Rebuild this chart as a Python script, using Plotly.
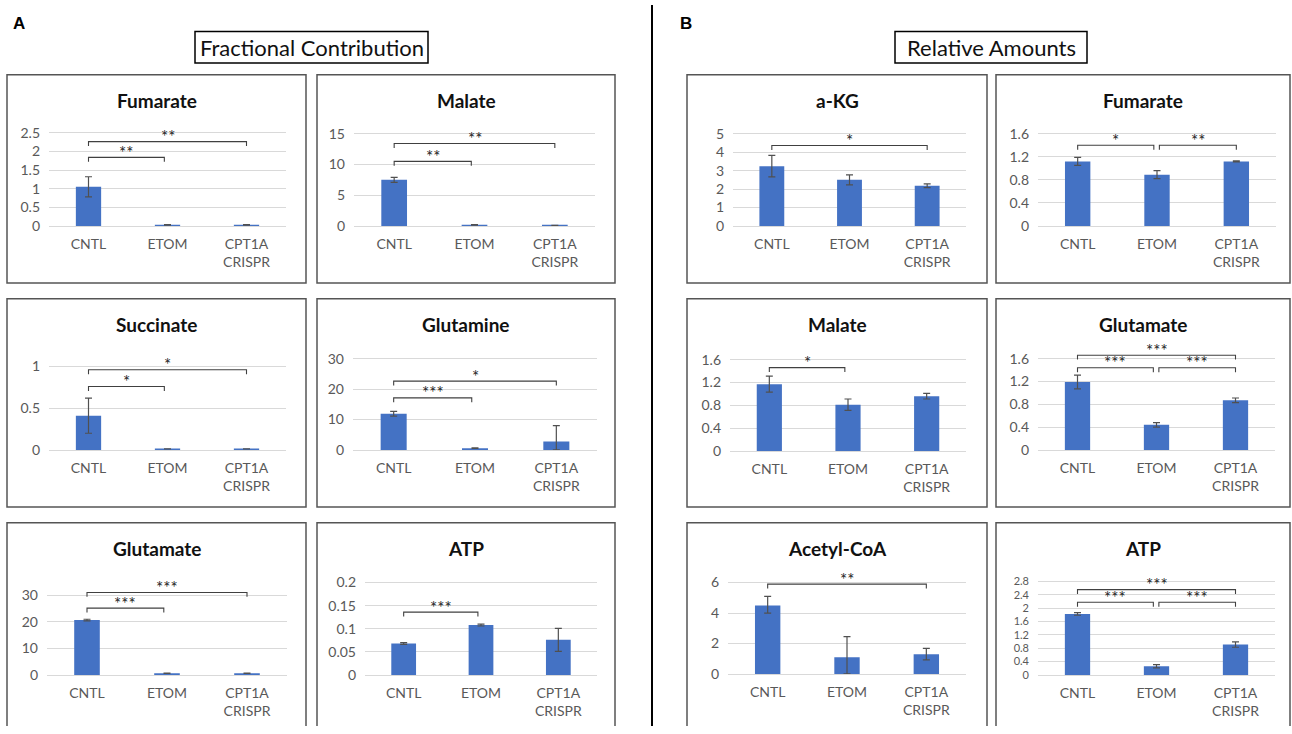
import plotly.graph_objects as go

W, H = 1292, 734

categories = ["CNTL", "ETOM", "CPT1A<br>CRISPR"]

# ---------------- A: Fractional Contribution ----------------
fc_fumarate = [1.05, 0.03, 0.03]
fc_fumarate_err = [0.27, 0.01, 0.01]
fc_fumarate_ticks = [0, 0.5, 1, 1.5, 2, 2.5]

fc_malate = [7.5, 0.2, 0.1]
fc_malate_err = [0.4, 0.05, 0.02]
fc_malate_ticks = [0, 5, 10, 15]

fc_succinate = [0.41, 0.012, 0.012]
fc_succinate_err = [0.21, 0.0, 0.0]
fc_succinate_ticks = [0, 0.5, 1]

fc_glutamine = [11.9, 0.6, 2.8]
fc_glutamine_err_plus = [0.8, 0.1, 5.2]
fc_glutamine_err_minus = [0.8, 0.1, 2.8]
fc_glutamine_ticks = [0, 10, 20, 30]

fc_glutamate = [20.7, 0.6, 0.6]
fc_glutamate_err = [0.3, 0.05, 0.05]
fc_glutamate_ticks = [0, 10, 20, 30]

fc_atp = [0.068, 0.108, 0.076]
fc_atp_err = [0.002, 0.002, 0.025]
fc_atp_ticks = [0, 0.05, 0.1, 0.15, 0.2]

# ---------------- B: Relative Amounts ----------------
ra_akg = [3.24, 2.5, 2.18]
ra_akg_err = [0.58, 0.27, 0.1]
ra_akg_ticks = [0, 1, 2, 3, 4, 5]

ra_fumarate = [1.12, 0.89, 1.12]
ra_fumarate_err = [0.07, 0.07, 0.01]
ra_fumarate_ticks = [0, 0.4, 0.8, 1.2, 1.6]

ra_malate = [1.17, 0.81, 0.96]
ra_malate_err = [0.14, 0.1, 0.05]
ra_malate_ticks = [0, 0.4, 0.8, 1.2, 1.6]

ra_glutamate = [1.19, 0.44, 0.87]
ra_glutamate_err = [0.12, 0.04, 0.04]
ra_glutamate_ticks = [0, 0.4, 0.8, 1.2, 1.6]

ra_acetylcoa = [4.5, 1.1, 1.3]
ra_acetylcoa_err_plus = [0.6, 1.35, 0.38]
ra_acetylcoa_err_minus = [0.5, 1.1, 0.38]
ra_acetylcoa_ticks = [0, 2, 4, 6]

ra_atp = [1.83, 0.26, 0.91]
ra_atp_err = [0.04, 0.05, 0.08]
ra_atp_ticks = [0, 0.4, 0.8, 1.2, 1.6, 2, 2.4, 2.8]

# significance brackets: (from index, to index, height, label)
fc_fumarate_sig = [(0, 2, 2.26, "**"), (0, 1, 1.84, "**")]
fc_malate_sig = [(0, 2, 13.4, "**"), (0, 1, 10.5, "**")]
fc_succinate_sig = [(0, 2, 0.96, "*"), (0, 1, 0.76, "*")]
fc_glutamine_sig = [(0, 2, 22.6, "*"), (0, 1, 17.1, "***")]
fc_glutamate_sig = [(0, 2, 31.1, "***"), (0, 1, 25.2, "***")]
fc_atp_sig = [(0, 1, 0.136, "***")]
ra_akg_sig = [(0, 2, 4.36, "*")]
ra_fumarate_sig = [(0, 1, 1.40, "*"), (1, 2, 1.40, "**")]
ra_malate_sig = [(0, 1, 1.46, "*")]
ra_glutamate_sig = [(0, 2, 1.66, "***"), (0, 1, 1.44, "***"), (1, 2, 1.44, "***")]
ra_acetylcoa_sig = [(0, 2, 5.9, "**")]
ra_atp_sig = [(0, 2, 2.56, "***"), (0, 1, 2.18, "***"), (1, 2, 2.18, "***")]

# ---------------- layout geometry (pixels) ----------------
panels = [
    dict(title="Fumarate", v=fc_fumarate, ep=fc_fumarate_err, em=fc_fumarate_err, ticks=fc_fumarate_ticks,
         sig=fc_fumarate_sig, box=(7, 71, 306, 283), gx=(49, 286), y0=225, yt=130),
    dict(title="Malate", v=fc_malate, ep=fc_malate_err, em=fc_malate_err, ticks=fc_malate_ticks,
         sig=fc_malate_sig, box=(317, 71, 615, 283), gx=(354, 595), y0=225, yt=131),
    dict(title="Succinate", v=fc_succinate, ep=fc_succinate_err, em=fc_succinate_err, ticks=fc_succinate_ticks,
         sig=fc_succinate_sig, box=(7, 299, 306, 511), gx=(49, 286), y0=453, yt=368),
    dict(title="Glutamine", v=fc_glutamine, ep=fc_glutamine_err_plus, em=fc_glutamine_err_minus,
         ticks=fc_glutamine_ticks, sig=fc_glutamine_sig, box=(317, 299, 615, 511), gx=(353, 597), y0=453, yt=360),
    dict(title="Glutamate", v=fc_glutamate, ep=fc_glutamate_err, em=fc_glutamate_err, ticks=fc_glutamate_ticks,
         sig=fc_glutamate_sig, box=(7, 527, 306, None), gx=(47, 287), y0=682, yt=601),
    dict(title="ATP", v=fc_atp, ep=fc_atp_err, em=fc_atp_err, ticks=fc_atp_ticks,
         sig=fc_atp_sig, box=(317, 527, 615, None), gx=(365, 597), y0=682, yt=588),
    dict(title="a-KG", v=ra_akg, ep=ra_akg_err, em=ra_akg_err, ticks=ra_akg_ticks,
         sig=ra_akg_sig, box=(687, 71, 987, 283), gx=(733, 966), y0=225, yt=131),
    dict(title="Fumarate", v=ra_fumarate, ep=ra_fumarate_err, em=ra_fumarate_err, ticks=ra_fumarate_ticks,
         sig=ra_fumarate_sig, box=(996, 71, 1290, 283), gx=(1038, 1276), y0=225, yt=131),
    dict(title="Malate", v=ra_malate, ep=ra_malate_err, em=ra_malate_err, ticks=ra_malate_ticks,
         sig=ra_malate_sig, box=(687, 299, 987, 511), gx=(730, 966), y0=454, yt=361),
    dict(title="Glutamate", v=ra_glutamate, ep=ra_glutamate_err, em=ra_glutamate_err, ticks=ra_glutamate_ticks,
         sig=ra_glutamate_sig, box=(996, 299, 1290, 511), gx=(1038, 1275), y0=453, yt=360),
    dict(title="Acetyl-CoA", v=ra_acetylcoa, ep=ra_acetylcoa_err_plus, em=ra_acetylcoa_err_minus,
         ticks=ra_acetylcoa_ticks, sig=ra_acetylcoa_sig, box=(687, 527, 987, None), gx=(728, 966), y0=681, yt=588),
    dict(title="ATP", v=ra_atp, ep=ra_atp_err, em=ra_atp_err, ticks=ra_atp_ticks,
         sig=ra_atp_sig, box=(996, 527, 1290, None), gx=(1038, 1275), y0=682, yt=587, tfs=11),
]

FONT = "Lato"
BAR = "#4472C4"
GRID = "#d9d9d9"
TXT = "#595959"

fig = go.Figure()
shapes = []
annotations = []
layout = {}


def px(x):
    return x / W


def py(y):
    return 1 - y / H


for k, p in enumerate(panels, start=1):
    xa = "x" if k == 1 else f"x{k}"
    ya = "y" if k == 1 else f"y{k}"
    T = p["ticks"][-1]
    ppu = (p["y0"] - p["yt"]) / T
    maxb = max([s[2] for s in p["sig"]] + [T])
    R = max(T, maxb + 4 / ppu)
    top_px = p["y0"] - R * ppu

    fig.add_trace(go.Bar(
        x=categories, y=p["v"], xaxis=xa, yaxis=ya, width=0.32,
        marker=dict(color=BAR, line=dict(width=0)),
        error_y=dict(type="data", array=p["ep"], arrayminus=p["em"], symmetric=False,
                     color="#505050", thickness=1.2, width=3.5),
        showlegend=False, hoverinfo="skip",
    ))

    layout["xaxis" if k == 1 else f"xaxis{k}"] = dict(
        domain=[px(p["gx"][0]), px(p["gx"][1])], anchor=ya, type="category",
        range=[-0.5, 2.5], showgrid=False, zeroline=False, showline=True, linecolor=GRID,
        linewidth=1, ticks="", ticklabelstandoff=5,
        tickfont=dict(family=FONT, size=14, color=TXT), fixedrange=True,
    )
    layout["yaxis" if k == 1 else f"yaxis{k}"] = dict(
        domain=[py(p["y0"]), py(top_px)], anchor=xa, range=[0, R],
        tickvals=p["ticks"], showgrid=True, gridcolor=GRID, gridwidth=1, zeroline=False,
        showline=False, ticks="", ticklabelstandoff=8,
        tickfont=dict(family=FONT, size=p.get("tfs", 14), color=TXT), fixedrange=True,
    )

    drop = 4.5 / ppu
    for (i, j, h, lab) in p["sig"]:
        xs = i + (0.03 if i == 1 else 0.0)
        xe = j - (0.04 if j == 1 else 0.0)
        shapes.append(dict(type="path", xref=xa, yref=ya,
                           path=f"M {xs},{h - drop} L {xs},{h} L {xe},{h} L {xe},{h - drop}",
                           line=dict(color="#404040", width=1.1)))
        annotations.append(dict(x=(xs + xe) / 2, y=h, xref=xa, yref=ya, text=lab, showarrow=False,
                                xanchor="center", yanchor="middle", yshift=5,
                                font=dict(family=FONT, size=17, color="#262626")))

    bx0, by0, bx1, by1 = p["box"]
    if by1 is None:
        # panel continues past the bottom edge of the figure: open frame
        shapes.append(dict(type="path", xref="paper", yref="paper",
                           path=f"M {px(bx0)},0 L {px(bx0)},{py(by0)} L {px(bx1)},{py(by0)} L {px(bx1)},0",
                           line=dict(color="#555555", width=1.5)))
    else:
        shapes.append(dict(type="rect", xref="paper", yref="paper",
                           x0=px(bx0), x1=px(bx1), y0=py(by1), y1=py(by0),
                           line=dict(color="#555555", width=1.5)))
    annotations.append(dict(x=px((bx0 + bx1) / 2), y=py(by0 + 26), xref="paper", yref="paper",
                            text=f"<b>{p['title']}</b>", showarrow=False,
                            xanchor="center", yanchor="middle",
                            font=dict(family=FONT, size=19, color="#111111")))

# divider
shapes.append(dict(type="line", xref="paper", yref="paper", x0=px(652), x1=px(652), y0=0, y1=1,
                   line=dict(color="#000000", width=2)))
# section title boxes
shapes.append(dict(type="rect", xref="paper", yref="paper", x0=px(195), x1=px(428), y0=py(59), y1=py(27),
                   line=dict(color="#000000", width=1.5)))
shapes.append(dict(type="rect", xref="paper", yref="paper", x0=px(895), x1=px(1087), y0=py(59), y1=py(27),
                   line=dict(color="#000000", width=1.5)))
annotations.append(dict(x=px(311.5), y=py(43), xref="paper", yref="paper", text="Fractional Contribution",
                        showarrow=False, xanchor="center", yanchor="middle",
                        font=dict(family=FONT, size=22, color="#111111")))
annotations.append(dict(x=px(991), y=py(43), xref="paper", yref="paper", text="Relative Amounts",
                        showarrow=False, xanchor="center", yanchor="middle",
                        font=dict(family=FONT, size=22, color="#111111")))
annotations.append(dict(x=px(19), y=py(19), xref="paper", yref="paper", text="<b>A</b>",
                        showarrow=False, xanchor="center", yanchor="middle",
                        font=dict(family="Liberation Sans", size=17, color="#000000")))
annotations.append(dict(x=px(686), y=py(19), xref="paper", yref="paper", text="<b>B</b>",
                        showarrow=False, xanchor="center", yanchor="middle",
                        font=dict(family="Liberation Sans", size=17, color="#000000")))

fig.update_layout(
    width=W, height=H, margin=dict(l=0, r=0, t=0, b=0),
    paper_bgcolor="white", plot_bgcolor="white",
    shapes=shapes, annotations=annotations,
    **layout,
)

page_fix = (
    "document.documentElement.style.margin='0';"
    "document.documentElement.style.padding='0';"
    "document.documentElement.style.height='734px';"
    "document.documentElement.style.overflow='hidden';"
    "document.body.style.margin='0';"
    "document.body.style.padding='0';"
    "document.body.style.height='734px';"
    "document.body.style.overflow='hidden';"
    "var d=document.querySelector('.plotly-graph-div');"
    "d.style.position='absolute';d.style.top='0px';d.style.left='0px';"
)

fig.write_html("out.html", config={"displayModeBar": False}, post_script=page_fix)
